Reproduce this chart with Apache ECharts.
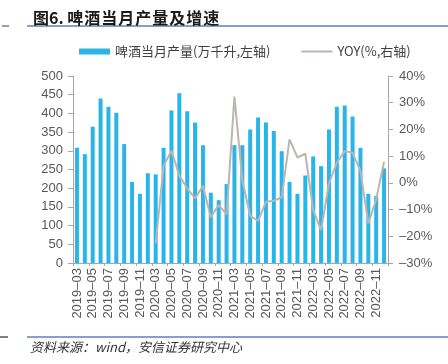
<!DOCTYPE html>
<html>
<head>
<meta charset="utf-8">
<script src="https://cdn.jsdelivr.net/npm/echarts@6/dist/echarts.min.js"></script>
<style>
html,body{margin:0;padding:0;background:#fff;}
#c{width:448px;height:364px;}
</style>
</head>
<body>
<div id="c"></div>
<script>
var categories = [
  '2019-03','2019-04','2019-05','2019-06','2019-07','2019-08','2019-09','2019-10','2019-11','2019-12',
  '2020-03','2020-04','2020-05','2020-06','2020-07','2020-08','2020-09','2020-10','2020-11','2020-12',
  '2021-03','2021-04','2021-05','2021-06','2021-07','2021-08','2021-09','2021-10','2021-11','2021-12',
  '2022-03','2022-04','2022-05','2022-06','2022-07','2022-08','2022-09','2022-10','2022-11','2022-12'
];
var production = [
  308,291,364,440,418,402,318,217,185,240,
  237,308,408,454,406,376,315,188,168,211,
  315,315,357,389,376,353,299,217,185,234,
  285,259,357,418,421,392,308,185,179,253
];
var yoy = [
  null,null,null,null,null,null,null,null,null,null,
  -22.7,6.4,12.0,2.7,-2.1,-5.8,-1.1,-12.9,-8.3,-11.8,
  32.3,1.0,-12.4,-14.2,-7.1,-6.7,-5.4,16.3,9.5,10.9,
  -10.2,-17.7,-0.2,7.5,11.9,11.3,4.4,-15.2,-6.2,7.9
];
var leftTicks = [0,50,100,150,200,250,300,350,400,450,500];
var rightTicks = [-30,-20,-10,0,10,20,30,40];

var chart = echarts.init(document.getElementById('c'), null, {renderer:'canvas'});
var axisFont = 'Liberation Sans, Arial, sans-serif';
var cjkFont = '"Noto Sans CJK SC", sans-serif';
var titleSpaced = '图6. ' + '啤酒当月产量及增速'.split('').join('\u200A');

var option = {
  animation: false,
  backgroundColor: '#fff',
  title: {
    text: titleSpaced,
    left: 28, top: 5,
    textStyle: {fontFamily: cjkFont, fontSize: 16, fontWeight: 'bold', color: '#1a1a1a'}
  },
  legend: {
    left: 74, top: 40,
    itemGap: 30,
    itemWidth: 31, itemHeight: 6,
    textStyle: {fontFamily: cjkFont, fontSize: 13, color: '#404040'},
    data: [
      {name: '啤酒当月产量(万千升,左轴)', icon: 'rect'},
      {name: 'YOY(%,右轴)', itemStyle: {opacity: 0}}
    ]
  },
  grid: {left: 73, right: 60, top: 76, bottom: 101, containLabel: false},
  xAxis: {
    type: 'category',
    data: categories,
    boundaryGap: true,
    axisLine: {lineStyle: {color: '#A6A6A6', width: 1}},
    axisTick: {show: true, length: 3, lineStyle: {color: '#A6A6A6'}},
    axisLabel: {
      interval: 1, rotate: 90, margin: 5,
      fontFamily: axisFont, fontSize: 13, color: '#595959',
      formatter: function (v) { return v.replace('-', '\u2013'); }
    }
  },
  yAxis: [
    {
      type: 'value', min: leftTicks[0], max: leftTicks[leftTicks.length-1], interval: 50,
      axisLine: {show: true, lineStyle: {color: '#A6A6A6'}},
      axisTick: {show: true, length: 5, lineStyle: {color: '#A6A6A6'}},
      splitLine: {show: false},
      axisLabel: {fontFamily: axisFont, fontSize: 13, color: '#595959', margin: 10}
    },
    {
      type: 'value', min: rightTicks[0], max: rightTicks[rightTicks.length-1], interval: 10,
      position: 'right',
      axisLine: {show: true, lineStyle: {color: '#A6A6A6'}},
      axisTick: {show: true, length: 5, lineStyle: {color: '#A6A6A6'}},
      splitLine: {show: false},
      axisLabel: {
        fontFamily: axisFont, fontSize: 13, color: '#595959', margin: 11,
        formatter: function (v) { return (v < 0 ? '\u2013' + Math.abs(v) : v) + '%'; }
      }
    }
  ],
  series: [
    {
      name: '啤酒当月产量(万千升,左轴)',
      type: 'bar',
      data: production,
      barWidth: 4,
      itemStyle: {color: '#2AB5EA'}
    },
    {
      name: 'YOY(%,右轴)',
      type: 'line',
      yAxisIndex: 1,
      data: yoy,
      symbol: 'none',
      connectNulls: false,
      lineStyle: {color: '#BDB5B2', width: 2},
      itemStyle: {color: '#BDB5B2'}
    }
  ],
  graphic: [
    {type: 'line', shape: {x1: 27, y1: 26, x2: 448, y2: 26}, style: {stroke: '#5B7FC0', lineWidth: 1.5}},
    {type: 'line', shape: {x1: 2, y1: 26, x2: 9, y2: 26}, style: {stroke: '#7F7F7F', lineWidth: 1.5}},
    {type: 'line', shape: {x1: 27, y1: 337, x2: 448, y2: 337}, style: {stroke: '#5B7FC0', lineWidth: 1.5}},
    {type: 'line', shape: {x1: 0, y1: 337, x2: 8, y2: 337}, style: {stroke: '#7F7F7F', lineWidth: 2}},
    {
      type: 'text', left: 30, top: 341,
      style: {
        text: '资料来源：wind，安信证券研究中心',
        font: 'italic 13px "Noto Sans CJK SC", sans-serif',
        fill: '#333333'
      }
    }
  ]
};
chart.setOption(option);
</script>
</body>
</html>
